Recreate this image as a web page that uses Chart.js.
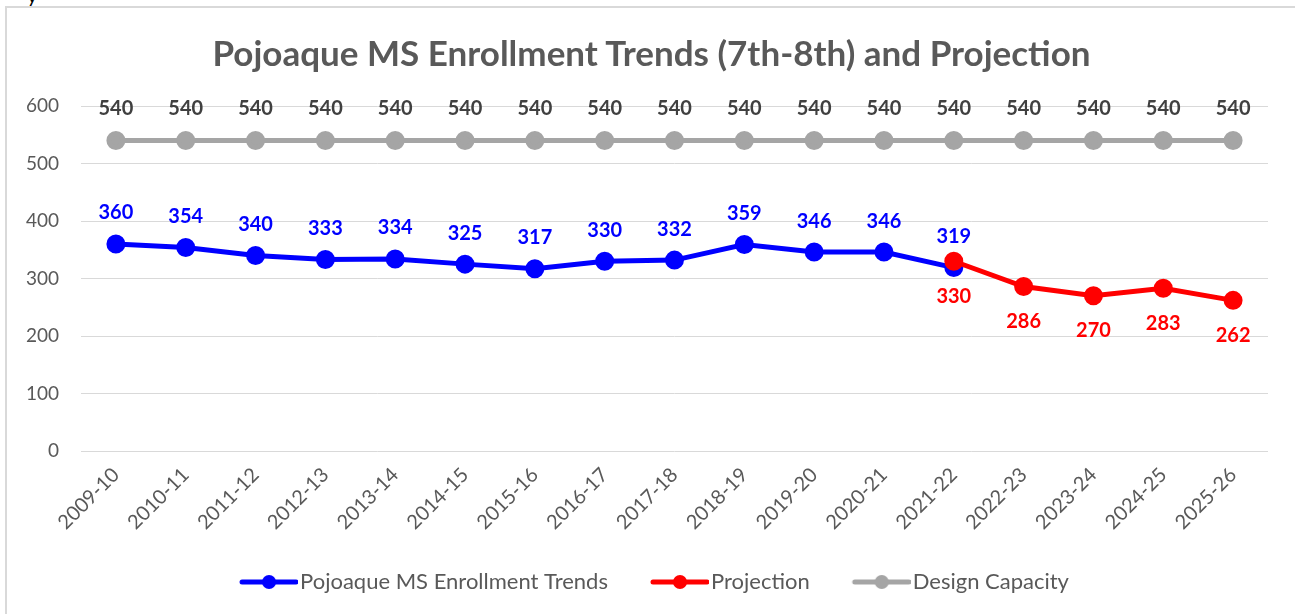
<!DOCTYPE html>
<html>
<head>
<meta charset="utf-8">
<script src="https://cdn.jsdelivr.net/npm/chart.js@4.4.1/dist/chart.umd.min.js"></script>
<style>
  html, body { margin: 0; padding: 0; background: #fff; overflow: hidden; }
  body { width: 1295px; height: 614px; position: relative; }
  #frame { position: absolute; left: 5px; top: 6px; width: 1400px; height: 700px;
           border-left: 2px solid #d9d9d9; border-top: 2px solid #d9d9d9; }
  #stray { position: absolute; left: 27px; top: -17px; font: 20px Lato, sans-serif; color: #000; }
  #wrap { position: absolute; left: 8px; top: 9px; width: 1287px; height: 605px; }
  #title { position: absolute; left: 8px; top: 31px; width: 1287px; text-align: center;
           font: bold 35px/42px Lato, 'Open Sans', sans-serif; color: #595959; white-space: nowrap; }
</style>
</head>
<body>
<div id="frame"></div>
<span id="stray">y</span>
<div id="wrap"><canvas id="chartLine"></canvas></div>
<div id="title">Pojoaque MS Enrollment Trends (7th-8th) and Projection</div>
<script>
// DATA
var years = ["2009-10","2010-11","2011-12","2012-13","2013-14","2014-15","2015-16","2016-17",
             "2017-18","2018-19","2019-20","2020-21","2021-22","2022-23","2023-24","2024-25","2025-26"];
var enrollment = [360,354,340,333,334,325,317,330,332,359,346,346,319,null,null,null,null];
var projection = [null,null,null,null,null,null,null,null,null,null,null,null,330,286,270,283,262];
var capacity = [540,540,540,540,540,540,540,540,540,540,540,540,540,540,540,540,540];
var yTicks = [0,100,200,300,400,500,600];

var FONT = "Lato, 'Open Sans', sans-serif";
var GREY_TEXT = "#595959";

// line+dot picture for the legend (blank on the left acts as the gap between items)
function legendMark(color) {
  var c = document.createElement('canvas');
  c.width = 100; c.height = 16;
  var g = c.getContext('2d');
  g.strokeStyle = color; g.lineWidth = 5; g.lineCap = 'round';
  g.beginPath(); g.moveTo(44, 8); g.lineTo(98, 8); g.stroke();
  g.fillStyle = color;
  g.beginPath(); g.arc(71, 8, 7, 0, Math.PI * 2); g.fill();
  return c;
}

// VALUE LABELS ON POINTS
var valueLabels = {
  id: 'valueLabels',
  afterDatasetsDraw: function(chart) {
    var ctx = chart.ctx;
    chart.data.datasets.forEach(function(ds, i) {
      var meta = chart.getDatasetMeta(i);
      meta.data.forEach(function(pt, j) {
        var v = ds.data[j];
        if (v == null) return;
        ctx.save();
        ctx.font = "bold 20px " + FONT;
        ctx.fillStyle = ds.labelColor;
        ctx.textAlign = 'center';
        ctx.textBaseline = 'middle';
        ctx.fillText(v, pt.x, pt.y + ds.labelOffset);
        ctx.restore();
      });
    });
  }
};

const lineData = {
  labels: years,
  datasets: [
    {
      label: "Pojoaque MS Enrollment Trends",
      data: enrollment,
      borderColor: "#0000ff",
      backgroundColor: "#0000ff",
      borderWidth: 5,
      pointRadius: 7,
      pointHoverRadius: 7,
      order: 2,
      labelColor: "#0000ff",
      labelOffset: -31,
    },
    {
      label: "Projection",
      data: projection,
      borderColor: "#ff0000",
      backgroundColor: "#ff0000",
      borderWidth: 5,
      pointRadius: 7,
      pointHoverRadius: 7,
      order: 1,
      labelColor: "#ff0000",
      labelOffset: 35,
    },
    {
      label: "Design Capacity",
      data: capacity,
      borderColor: "#a5a5a5",
      backgroundColor: "#a5a5a5",
      borderWidth: 5,
      pointRadius: 7,
      pointHoverRadius: 7,
      order: 3,
      labelColor: "#404040",
      labelOffset: -32,
    },
  ],
};

const configLine = {
  type: "line",
  data: lineData,
  plugins: [valueLabels],
  options: {
    responsive: true,
    maintainAspectRatio: false,
    animation: false,
    // top padding leaves room for the html title
    layout: { padding: { left: 0, right: 27, top: 97, bottom: 11 } },
    plugins: {
      tooltip: { enabled: false },
      title: { display: false },
      legend: {
        position: "bottom",
        labels: {
          color: GREY_TEXT,
          font: { family: FONT, size: 22 },
          usePointStyle: true,
          pointStyleWidth: 82,
          padding: 10,
          generateLabels: function(chart) {
            return chart.data.datasets.map(function(ds, i) {
              return {
                text: ds.label,
                fillStyle: ds.borderColor,
                strokeStyle: ds.borderColor,
                fontColor: GREY_TEXT,
                pointStyle: legendMark(ds.borderColor),
                lineWidth: 0,
                hidden: false,
                datasetIndex: i,
              };
            });
          },
        },
      },
    },
    scales: {
      x: {
        offset: true,
        grid: { display: false },
        border: { display: false },
        ticks: {
          color: GREY_TEXT,
          font: { family: FONT, size: 20 },
          minRotation: 45,
          maxRotation: 45,
          padding: 4,
        },
        afterFit: function(scale) { scale.height = 110; },
      },
      y: {
        min: 0,
        max: 600,
        afterBuildTicks: function(scale) {
          scale.ticks = yTicks.map(function(v) { return { value: v }; });
        },
        grid: { color: "#d9d9d9", lineWidth: 1, drawTicks: false },
        border: { display: false },
        ticks: {
          color: GREY_TEXT,
          font: { family: FONT, size: 19 },
          padding: 22,
        },
        afterFit: function(scale) { scale.width = 73; },
      },
    },
  },
};

var chartLine = new Chart(document.getElementById("chartLine"), configLine);
</script>
</body>
</html>
